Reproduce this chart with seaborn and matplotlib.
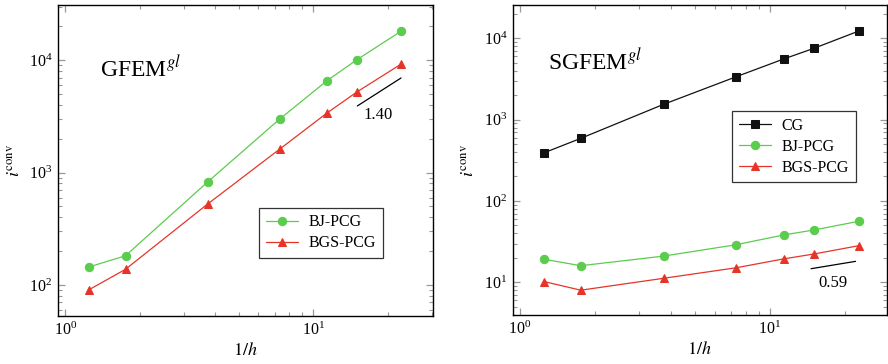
import numpy as np
import pandas as pd
import matplotlib
matplotlib.use("Agg")
import matplotlib.pyplot as plt
import seaborn as sns
from matplotlib.ticker import LogLocator, NullFormatter

# ---- data ----
inv_h = [1.25, 1.75, 3.75, 7.33, 11.33, 15.0, 22.67]

gfem_bj = [145, 182, 825, 3000, 6540, 10100, 18200]
gfem_bgs = [91, 138, 525, 1620, 3375, 5220, 9270]

sgfem_cg = [392, 589, 1542, 3374, 5565, 7540, 12300]
sgfem_bj = [19.2, 16.0, 21.0, 29.0, 38.2, 44.0, 56.3]
sgfem_bgs = [10.2, 8.0, 11.2, 15.1, 19.4, 22.3, 28.2]

slope_left_x = [15.06, 22.6]
slope_left_y = [3917, 6950]
slope_left_label = "1.40"
slope_right_x = [14.6, 22.0]
slope_right_y = [14.7, 18.1]
slope_right_label = "0.59"

# ---- style ----
sns.set_theme(style="white")
plt.rcParams["font.family"] = ["Liberation Serif", "DejaVu Serif"]
plt.rcParams["mathtext.fontset"] = "stix"
plt.rcParams["text.color"] = "black"
plt.rcParams["axes.labelcolor"] = "black"

GREEN = "#5ccc4e"
RED = "#e53529"
BLACK = "#111111"

fig = plt.figure(figsize=(8.88, 3.64), dpi=100)
axL = fig.add_axes([0.0653, 0.1319, 0.4223, 0.8544])
axR = fig.add_axes([0.5774, 0.1338, 0.4211, 0.8525])


def series(ax, y, color, marker, label, ms):
    df = pd.DataFrame({"x": inv_h, "y": y})
    sns.lineplot(data=df, x="x", y="y", ax=ax, color=color, marker=marker,
                 markersize=ms, markeredgecolor=color, linewidth=0.9,
                 label=label)


def style_axes(ax, xlim, ylim):
    ax.set_xscale("log")
    ax.set_yscale("log")
    ax.set_xlim(*xlim)
    ax.set_ylim(*ylim)
    for s in ax.spines.values():
        s.set_color("black")
        s.set_linewidth(1.0)
    ax.xaxis.set_major_locator(LogLocator(base=10, numticks=10))
    ax.yaxis.set_major_locator(LogLocator(base=10, numticks=10))
    ax.xaxis.set_minor_locator(LogLocator(base=10, subs=np.arange(2, 10), numticks=20))
    ax.yaxis.set_minor_locator(LogLocator(base=10, subs=np.arange(2, 10), numticks=20))
    ax.xaxis.set_minor_formatter(NullFormatter())
    ax.yaxis.set_minor_formatter(NullFormatter())
    ax.tick_params(which="both", direction="in", top=True, right=True,
                   bottom=True, left=True, color="#999999", labelsize=11.5,
                   labelcolor="black")
    ax.tick_params(which="major", length=5, width=0.9, pad=4)
    ax.tick_params(which="minor", length=3, width=0.8)
    ax.set_xlabel("$1/h$", fontsize=13, labelpad=2)
    ax.set_ylabel(r"$i^{\mathrm{conv}}$", fontsize=13, labelpad=4)
    ax.grid(False)


def make_legend(ax, anchor):
    leg = ax.legend(loc="upper left", bbox_to_anchor=anchor, fontsize=11.5,
                    frameon=True, fancybox=False, edgecolor="black",
                    handlelength=2.0, borderpad=0.4, labelspacing=0.32,
                    handletextpad=0.7, borderaxespad=0.0)
    leg.get_frame().set_linewidth(0.9)
    for t in leg.get_texts():
        t.set_color("black")
    return leg


# Left panel
series(axL, gfem_bj, GREEN, "o", "BJ-PCG", 6)
series(axL, gfem_bgs, RED, "^", "BGS-PCG", 6)
style_axes(axL, (0.935, 30.4), (53, 31000))
axL.plot(slope_left_x, slope_left_y, color="black", lw=0.9)
axL.text(0.853, 0.646, slope_left_label, transform=axL.transAxes, fontsize=12,
         ha="center", va="center")
axL.text(0.113, 0.795, r"GFEM$^{gl}$", transform=axL.transAxes, fontsize=17,
         ha="left", va="center")
make_legend(axL, (0.537, 0.348))

# Right panel
series(axR, sgfem_cg, BLACK, "s", "CG", 6)
series(axR, sgfem_bj, GREEN, "o", "BJ-PCG", 6)
series(axR, sgfem_bgs, RED, "^", "BGS-PCG", 6)
style_axes(axR, (0.935, 29.3), (3.93, 25700))
axR.plot(slope_right_x, slope_right_y, color="black", lw=0.9)
axR.text(0.856, 0.105, slope_right_label, transform=axR.transAxes, fontsize=12,
         ha="center", va="center")
axR.text(0.095, 0.816, r"SGFEM$^{gl}$", transform=axR.transAxes, fontsize=17,
         ha="left", va="center")
make_legend(axR, (0.587, 0.658))

fig.savefig("out.png", dpi=100)
